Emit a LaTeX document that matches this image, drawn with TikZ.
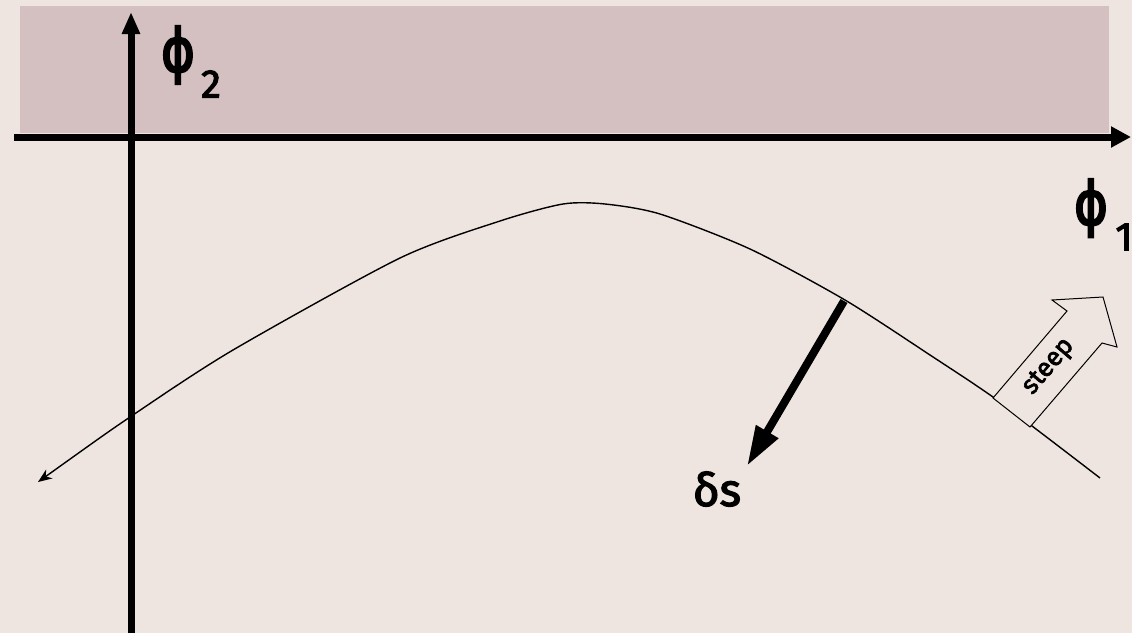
\documentclass[tikz,border=0pt]{standalone}
\usepackage{fontspec}
\setmainfont{Fira Sans}
\newfontfamily\medfont[FakeBold=2.6]{Fira Sans}
\newfontfamily\phifont[FakeBold=4]{DejaVu Sans}
\usetikzlibrary{arrows.meta}
\definecolor{bgc}{RGB}{238,229,224}
\definecolor{band}{RGB}{212,191,193}
\begin{document}
\begin{tikzpicture}[x=1pt,y=-1pt,
  axisline/.style={line width=7pt},
  curveline/.style={line width=1.4pt},
  lbl/.style={inner sep=0pt},
  philbl/.style={inner sep=0pt, font=\phifont\fontsize{60}{60}\selectfont, xscale=0.85},
  sublbl/.style={inner sep=0pt, font=\medfont\fontsize{40}{40}\selectfont},
]
\fill[bgc] (0,0) rectangle (1132,633);
\useasboundingbox (0,0) rectangle (1132,633);
\fill[band] (20,6) rectangle (1109,133);

% axes
\coordinate (yb) at (131,633);
\coordinate (yt) at (131,12);
\coordinate (xl) at (14,137);
\coordinate (xr) at (1131,137);
\draw[axisline, -{Triangle[length=22pt,width=17pt]}] (yb) -- (yt);
\draw[axisline, -{Triangle[length=20pt,width=20pt]}] (xl) -- (xr);

% curve
\draw[curveline, {Stealth[length=14pt,width=11pt]}-] plot[smooth, tension=0.45] coordinates
  {(38,482) (133,415) (233,350) (400,258) (500,221) (563,204) (605,204) (660,214) (750,249) (845,300) (930,355) (1000,402) (1100,478)};

% delta s arrow
\coordinate (ds0) at (844,301);
\coordinate (ds1) at (747,466);
\draw[line width=8pt, -{Triangle[length=40pt,width=24pt]}] (ds0) -- (ds1);
\node[lbl, font=\medfont\fontsize{46}{46}\selectfont] (ds) at (717,489) {δs};

% steep block arrow
\draw[fill=bgc, line width=1pt, line join=miter]
  (993,398) -- (1067,311) -- (1052,300) -- (1103,297) -- (1117,347) -- (1102,343) -- (1030,427) -- cycle;
\node[lbl, font=\medfont\fontsize{26}{26}\selectfont, rotate=49.6] (steep) at (1049,367) {steep};

% labels
\node[philbl] (phi2) at (178,55) {ϕ};
\node[sublbl] (sub2) at (211,84) {2};
\node[philbl] (phi1) at (1091,208) {ϕ};
\node[sublbl] (sub1) at (1124,237) {1};
\end{tikzpicture}
\end{document}
